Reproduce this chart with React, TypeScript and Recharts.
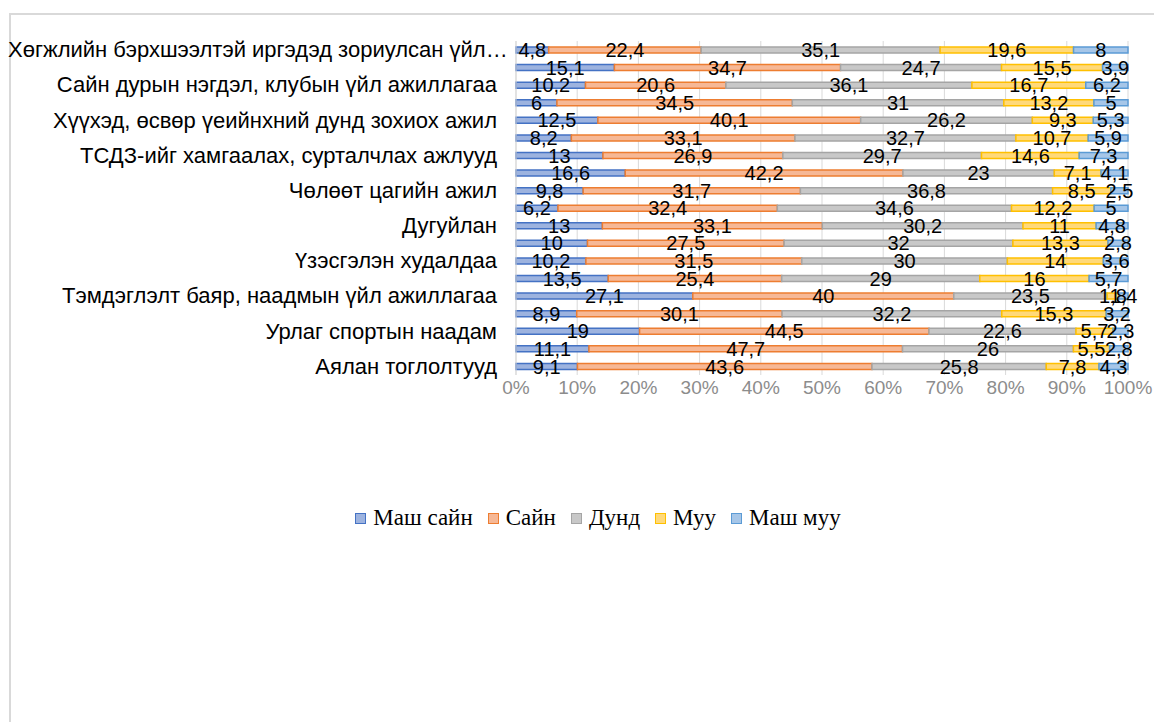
import { Bar, BarChart, CartesianGrid, LabelList, Legend, XAxis, YAxis } from 'recharts'

// 19 rows top to bottom; Excel only printed every second label
const categories = [
  'Хөгжлийн бэрхшээлтэй иргэдэд зориулсан үйл…',
  '',
  'Сайн дурын нэгдэл, клубын үйл ажиллагаа',
  '',
  'Хүүхэд, өсвөр үеийнхний дунд зохиох ажил',
  '',
  'ТСДЗ-ийг хамгаалах, сурталчлах ажлууд',
  '',
  'Чөлөөт цагийн ажил',
  '',
  'Дугуйлан',
  '',
  'Үзэсгэлэн худалдаа',
  '',
  'Тэмдэглэлт баяр, наадмын үйл ажиллагаа',
  '',
  'Урлаг спортын наадам',
  '',
  'Аялан тоглолтууд',
]

const veryGood = [4.8, 15.1, 10.2, 6, 12.5, 8.2, 13, 16.6, 9.8, 6.2, 13, 10, 10.2, 13.5, 27.1, 8.9, 19, 11.1, 9.1]
const good = [22.4, 34.7, 20.6, 34.5, 40.1, 33.1, 26.9, 42.2, 31.7, 32.4, 33.1, 27.5, 31.5, 25.4, 40, 30.1, 44.5, 47.7, 43.6]
const average = [35.1, 24.7, 36.1, 31, 26.2, 32.7, 29.7, 23, 36.8, 34.6, 30.2, 32, 30, 29, 23.5, 32.2, 22.6, 26, 25.8]
const poor = [19.6, 15.5, 16.7, 13.2, 9.3, 10.7, 14.6, 7.1, 8.5, 12.2, 11, 13.3, 14, 16, 1.8, 15.3, 5.7, 5.5, 7.8]
const veryPoor = [8, 3.9, 6.2, 5, 5.3, 5.9, 7.3, 4.1, 2.5, 5, 4.8, 2.8, 3.6, 5.7, 1.4, 3.2, 2.3, 2.8, 4.3]

const xTicks = [0, 0.1, 0.2, 0.3, 0.4, 0.5, 0.6, 0.7, 0.8, 0.9, 1]

const series = [
  { key: 'veryGood', name: 'Маш сайн', fill: '#9db3df', stroke: '#4472c4' },
  { key: 'good', name: 'Сайн', fill: '#f6b896', stroke: '#ed7d31' },
  { key: 'average', name: 'Дунд', fill: '#c8c8c8', stroke: '#a5a5a5' },
  { key: 'poor', name: 'Муу', fill: '#ffd97a', stroke: '#ffc000' },
  { key: 'veryPoor', name: 'Маш муу', fill: '#a6c6e8', stroke: '#5b9bd5' },
]

const rows = categories.map((name, i) => ({
  id: i,
  name,
  veryGood: veryGood[i],
  good: good[i],
  average: average[i],
  poor: poor[i],
  veryPoor: veryPoor[i],
}))

const SANS = '"Liberation Sans", Arial, sans-serif'
const SERIF = '"Liberation Serif", "Times New Roman", serif'

const asComma = (v: unknown) => String(v).replace('.', ',')
const asPercent = (v: number) => `${Math.round(v * 100)}%`

// Excel lets the truncated label run from the chart's left edge instead of clipping it
function CategoryTick({ x, y, payload }: any) {
  const label = categories[payload.value] ?? ''
  const overflow = label.length > 40
  return (
    <text
      x={overflow ? 0 : x}
      y={y}
      textAnchor={overflow ? 'start' : 'end'}
      dominantBaseline="central"
      fill="#000"
      fontSize={22}
      fontFamily={SANS}
    >
      {label}
    </text>
  )
}

function LegendRow() {
  return (
    <div
      style={{
        display: 'flex',
        justifyContent: 'center',
        alignItems: 'center',
        height: 26,
        paddingLeft: 26,
        fontFamily: SERIF,
        fontSize: 23,
        color: '#000',
      }}
    >
      {series.map((s, i) => (
        <span
          key={s.key}
          style={{
            display: 'flex',
            alignItems: 'center',
            marginRight: i === series.length - 1 ? 0 : 15,
          }}
        >
          <span
            style={{
              width: 11,
              height: 11,
              boxSizing: 'border-box',
              background: s.fill,
              border: `1.5px solid ${s.stroke}`,
              marginRight: 7,
            }}
          />
          {s.name}
        </span>
      ))}
    </div>
  )
}

export default function App() {
  return (
    <div style={{ position: 'relative', width: 1154, height: 714, overflow: 'hidden' }}>
      <div
        style={{
          position: 'absolute',
          left: 1,
          top: 5,
          width: 1200,
          height: 800,
          borderTop: '2px solid #d9d9d9',
          borderLeft: '2px solid #d9d9d9',
        }}
      />
      <div style={{ position: 'absolute', left: 0, top: 0 }}>
        <BarChart
          width={1154}
          height={714}
          data={rows}
          layout="vertical"
          stackOffset="expand"
          margin={{ top: 33, right: 34, bottom: 291, left: 0 }}
        >
          <CartesianGrid horizontal={false} stroke="#d9d9d9" />
          <XAxis
            type="number"
            domain={[0, 1]}
            ticks={xTicks}
            tickFormatter={asPercent}
            axisLine={false}
            tickLine={false}
            tickSize={0}
            tickMargin={6}
            height={30}
            tick={{ fill: '#8c8c8c', fontSize: 19, fontFamily: SANS }}
          />
          <YAxis
            type="category"
            dataKey="id"
            width={508}
            interval={0}
            axisLine={{ stroke: '#d9d9d9' }}
            tickLine={false}
            tickSize={0}
            tickMargin={19}
            tick={<CategoryTick />}
          />
          <Legend
            verticalAlign="bottom"
            content={() => <LegendRow />}
            wrapperStyle={{ top: 497, bottom: 'auto', left: 0, width: 1154 }}
          />
          {series.map((s) => (
            <Bar
              key={s.key}
              dataKey={s.key}
              name={s.name}
              stackId="a"
              barSize={6}
              fill={s.fill}
              stroke={s.stroke}
              strokeWidth={1.5}
              isAnimationActive={false}
            >
              <LabelList
                dataKey={s.key}
                position="center"
                formatter={asComma}
                fill="#000"
                fontSize={20}
                fontFamily={SANS}
              />
            </Bar>
          ))}
        </BarChart>
      </div>
    </div>
  )
}
